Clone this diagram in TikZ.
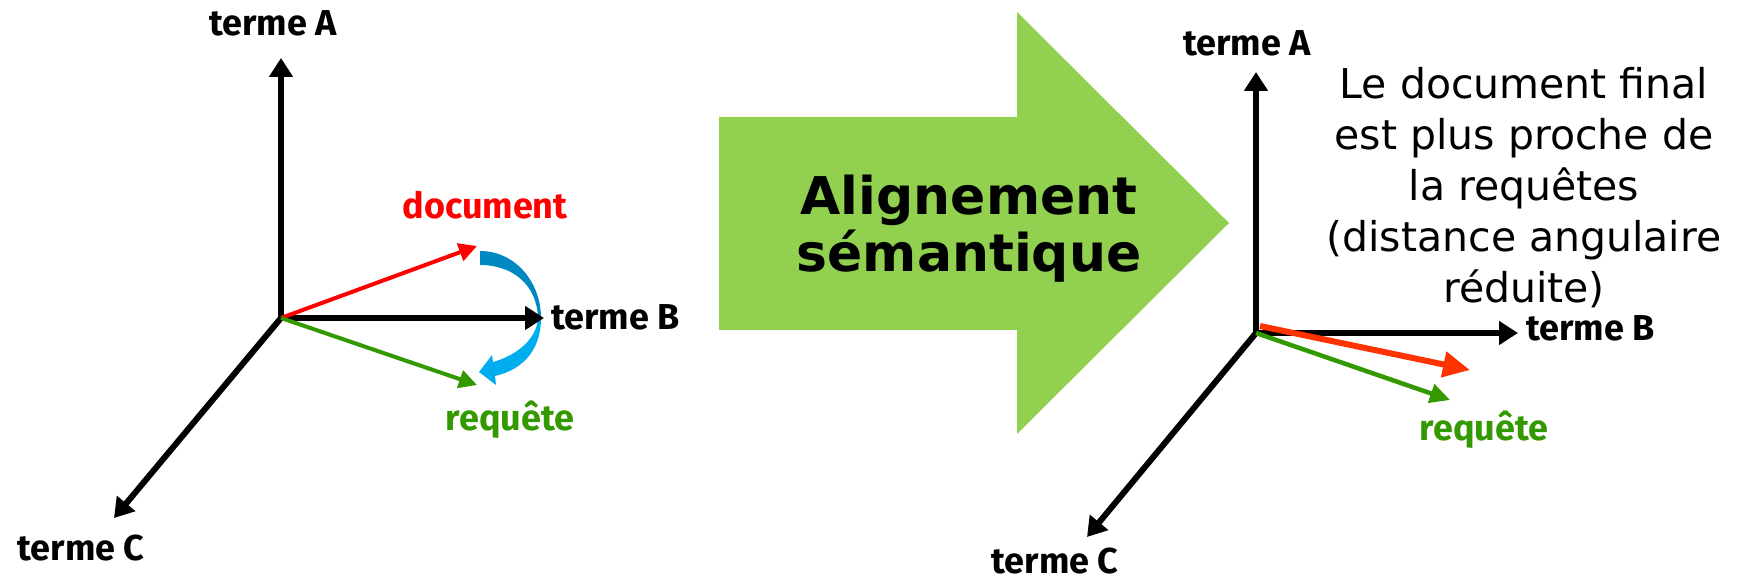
\documentclass[tikz,border=0pt]{standalone}
\usepackage{fontspec}
\usetikzlibrary{arrows.meta}
\newfontfamily\labfont{Fira Sans}
\newfontfamily\dvsfont{DejaVu Sans}
\definecolor{docred}{HTML}{FF0000}
\definecolor{reqgreen}{HTML}{339900}
\definecolor{finred}{HTML}{FF3300}
\definecolor{bluedark}{HTML}{0088C2}
\definecolor{bluelight}{HTML}{00AEEF}
\definecolor{biggreen}{HTML}{92D050}
\tikzset{
  axisline/.style={line width=6pt, -{Triangle[length=19pt,width=23pt]}},
  vecline/.style={line width=4pt, -{Triangle[length=18pt,width=18pt]}},
  lab/.style={font=\labfont\bfseries\fontsize{36}{40}\selectfont, inner sep=0pt, anchor=base},
}
\begin{document}
\begin{tikzpicture}[x=1pt,y=1pt]
\useasboundingbox (0,0) rectangle (1740,583);
% ---------- left diagram ----------
\coordinate (O1) at (281,265);
\coordinate (A1) at (281,525);
\coordinate (B1) at (544,265);
\coordinate (C1) at (114,65);
\coordinate (D1) at (477,337);
\coordinate (R1) at (477,198);
% curved blue arrow
\fill[bluedark] (480,332) .. controls (516,332) and (541,300) .. (541,265)
  -- (538,265) .. controls (537,298) and (513,318) .. (480,318) -- cycle;
\fill[bluelight] (541,265) .. controls (541,235) and (525,214) .. (495,207)
  -- (496,198) -- (479,211) -- (492,228) -- (493,221)
  .. controls (518,228) and (537,245) .. (538,265) -- cycle;
\draw[axisline, line width=6.5pt] (O1) -- (A1);
\draw[axisline, line width=5.5pt] (O1) -- (B1);
\draw[axisline] (O1) -- (C1);
\draw[vecline, docred] (O1) -- (D1);
\draw[vecline, reqgreen] (O1) -- (R1);
\node[lab] (tA1) at (273,547) {terme A};
\node[lab, anchor=base west] (tB1) at (551,253) {terme B};
\node[lab] (tC1) at (81,22) {terme C};
\node[lab, docred] (tD1) at (485,364) {document};
\node[lab, reqgreen] (tR1) at (510,152) {requête};
% ---------- big arrow ----------
\fill[biggreen] (719,466) -- (1017,466) -- (1017,571) -- (1229,360)
  -- (1017,149) -- (1017,253) -- (719,253) -- cycle;
\node[font=\dvsfont\bfseries\fontsize{52}{57}\selectfont, align=center,
  inner sep=0pt, anchor=north] (align) at (969,408)
  {Alignement\\sémantique};
% ---------- right diagram ----------
\coordinate (O2) at (1256,250);
\coordinate (A2) at (1256,511);
\coordinate (B2) at (1518,250);
\coordinate (C2) at (1087,46);
\coordinate (F2) at (1470,213);
\coordinate (R2) at (1450,183);
\coordinate (F2s) at (1260,257);
\draw[axisline, line width=6.5pt] (O2) -- (A2);
\draw[axisline, line width=5.5pt] (O2) -- (B2);
\draw[axisline] (O2) -- (C2);
\draw[line width=4.5pt, reqgreen, -{Triangle[length=20pt,width=19pt]}] (O2) -- (R2);
\draw[line width=6pt, finred, -{Triangle[length=27pt,width=25pt]}] (F2s) -- (F2);
\node[lab] (tA2) at (1247,527) {terme A};
\node[lab, anchor=base west] (tB2) at (1526,242) {terme B};
\node[lab] (tC2) at (1055,9) {terme C};
\node[lab, reqgreen] (tR2) at (1484,142) {requête};
\node[font=\dvsfont\fontsize{41}{51}\selectfont, align=center, inner sep=0pt,
  anchor=north] (txt) at (1524,516)
  {Le document final\\est plus proche de\\la requêtes\\(distance angulaire\\réduite)};
\end{tikzpicture}
\end{document}
